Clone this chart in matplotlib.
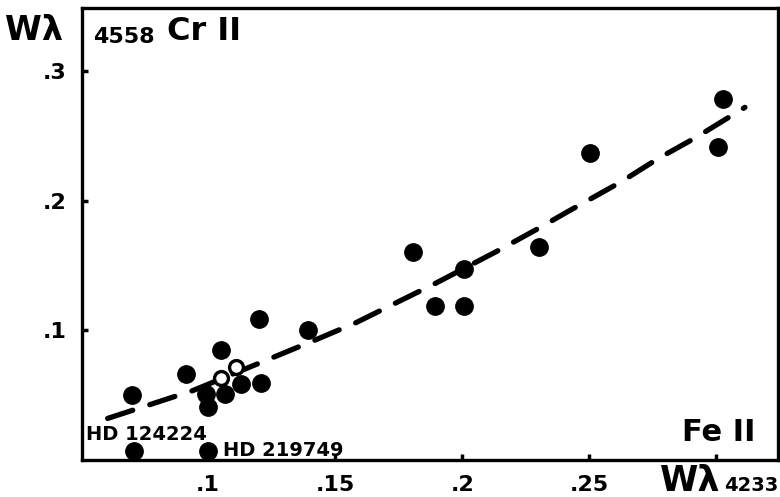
import matplotlib
matplotlib.use("Agg")
import matplotlib.pyplot as plt

# Fe II 4233 vs Cr II 4558 equivalent widths
fe_filled = [0.0700, 0.0914, 0.0991, 0.1001, 0.1051, 0.1067, 0.1132, 0.1208, 0.1200,
             0.1394, 0.1806, 0.1894, 0.2006, 0.2009, 0.2304, 0.2503, 0.3007, 0.3024]
cr_filled = [0.0500, 0.0667, 0.0513, 0.0411, 0.0846, 0.0513, 0.0590, 0.0598, 0.1090,
             0.1000, 0.1603, 0.1192, 0.1475, 0.1192, 0.1642, 0.2372, 0.2415, 0.2788]
fe_open = [0.1051, 0.1110]
cr_open = [0.0636, 0.0718]
fe_named = [0.0709, 0.1001]
cr_named = [0.0069, 0.0069]
names = ["HD 124224", "HD 219749"]
fe_curve = [0.0606, 0.0941, 0.1424, 0.1581, 0.1898, 0.2134, 0.2306, 0.2409,
            0.2625, 0.2771, 0.2919, 0.3112]
cr_curve = [0.0321, 0.0536, 0.0928, 0.1059, 0.1367, 0.1609, 0.1795, 0.1911,
            0.2148, 0.2328, 0.2490, 0.2723]

xticks = [0.10, 0.15, 0.20, 0.25, 0.30]
xticklabels = [".1", ".15", ".2", ".25", ""]
yticks = [0.1, 0.2, 0.3]
yticklabels = [".1", ".2", ".3"]

W, H = 780, 497
plt.rcParams.update({"font.family": ["DejaVu Sans"], "font.weight": "bold"})
fig = plt.figure(figsize=(W / 100, H / 100), dpi=100)
ax = fig.add_axes([81.7 / W, 1 - 460 / H, (777.5 - 81.7) / W, (460 - 8.3) / H])

ax.plot(fe_curve, cr_curve, color="black", lw=3.8, dashes=(5, 3.4),
        dash_capstyle="round", zorder=2)
ax.plot(fe_filled, cr_filled, "o", color="black", ms=12.5, zorder=3)
ax.plot(fe_named, cr_named, "o", color="black", ms=12.5, zorder=3, clip_on=False)
ax.plot(fe_open, cr_open, "o", mfc="white", mec="black", mew=2.4, ms=10, zorder=4)

ax.set_xlim(0.0504, 0.324)
ax.set_ylim(0.0, 0.3488)
ax.set_xticks(xticks)
ax.set_xticklabels(xticklabels, fontsize=16, fontweight="bold")
ax.set_yticks(yticks)
ax.set_yticklabels(yticklabels, fontsize=16, fontweight="bold")
ax.tick_params(direction="in", length=4, width=2.5, pad=11)
ax.tick_params(top=False, right=False)
for s in ax.spines.values():
    s.set_visible(True)
    s.set_linewidth(2.4)
    s.set_color("black")
    s.set_zorder(5)


def ftext(x, y, s, size):
    fig.text(x / W, 1 - y / H, s, fontsize=size, fontweight="bold", va="baseline")


ftext(5, 40, "Wλ", 24)
ftext(93, 43, "4558", 16)
ftext(167, 40, "Cr II", 23)
ftext(660, 491, "Wλ", 25)
ftext(724, 491, "4233", 14)
ftext(682, 441, "Fe II", 22)
ftext(86, 440, names[0], 14)
ftext(223, 456, names[1], 14)

fig.savefig("out.png", dpi=100)
